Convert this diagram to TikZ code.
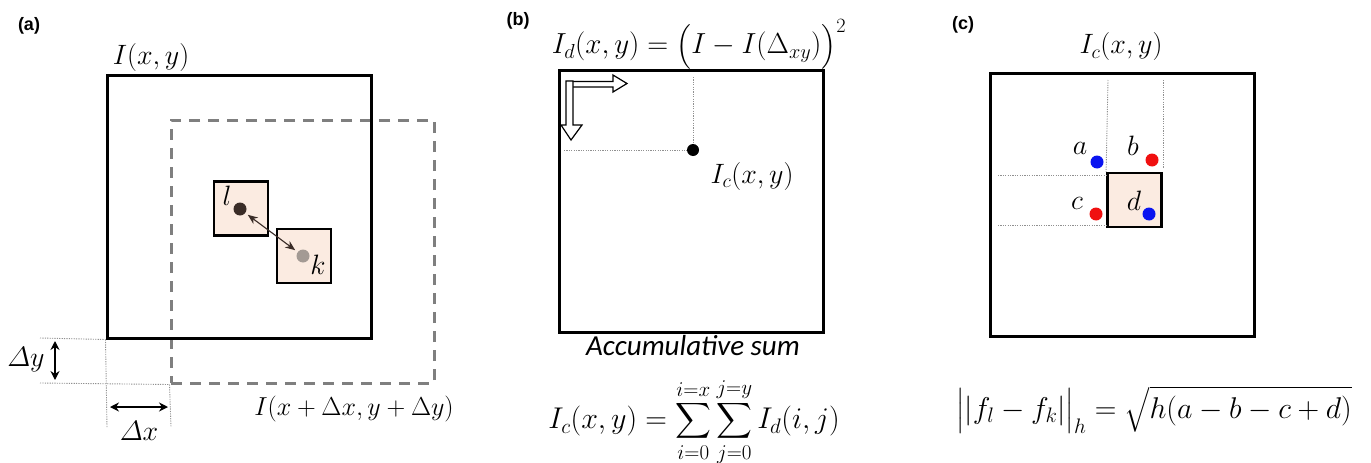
\RequirePackage{fix-cm}
\documentclass[tikz,border=0pt]{standalone}
\usepackage{amsmath}
\usepackage{fontspec}
\newfontfamily\lblfont{Liberation Sans}
\newfontfamily\calfont{Carlito}
\usetikzlibrary{arrows.meta}
\definecolor{peach}{HTML}{FBEBE1}
\definecolor{dashgray}{HTML}{7F7F7F}
\definecolor{dotgray}{HTML}{909090}
\definecolor{ldot}{HTML}{3A2C27}
\definecolor{kdot}{HTML}{A39A94}
\definecolor{dotblue}{HTML}{0A14F0}
\definecolor{dotred}{HTML}{F01010}
\newcommand{\itDelta}{\mathchar"0101}
\tikzset{
  frame/.style={draw=black, line width=3pt, inner sep=0pt, fill=none},
  smallbox/.style={draw=black, line width=2.8pt, inner sep=0pt, fill=peach, minimum width=54pt, minimum height=54pt},
  dotline/.style={draw=dotgray, line width=0.9pt, dash pattern=on 1.2pt off 1.2pt},
  dashbox/.style={draw=dashgray, line width=3pt, dash pattern=on 11pt off 8pt, inner sep=0pt},
  blob/.style={circle, inner sep=0pt, minimum size=13pt},
  panel/.style={font=\lblfont\bfseries\fontsize{18}{21}\selectfont, inner sep=0pt},
  mlabel/.style={font=\fontsize{28}{32}\selectfont, inner sep=0pt},
  hollow/.style={draw=black, line width=1.2pt, fill=white},
  dimarrow/.style={{Stealth[length=9pt,width=9pt]}-{Stealth[length=9pt,width=9pt]}, line width=1.3pt},
}
\begin{document}
\begin{tikzpicture}[x=1pt,y=-1pt]
\useasboundingbox (0,0) rectangle (1371,463);
% ---------- panel (a)
\node[panel] (pa) at (29,26) {(a)};
\node[dashbox, minimum width=263pt, minimum height=263pt] (B) at (302.5,251.5) {};
\node[frame, minimum width=264pt, minimum height=263pt] (A) at (239,206.5) {};
\node[mlabel] (Alab) at (151,57) {$I(x,y)$};
\node[mlabel, font=\fontsize{26}{30}\selectfont] (Blab) at (354,409) {$I(x+\Delta x,y+\Delta y)$};
\node[smallbox] (bl) at (241,208.5) {};
\node[smallbox] (bk) at (304,256) {};
\node[blob, fill=ldot] (dl) at (240,209) {};
\node[blob, fill=kdot] (dk) at (303,256) {};
\node[mlabel, anchor=base] (tl) at (227,205) {$l$};
\node[mlabel, anchor=base] (tk) at (318,274) {$k$};
\draw[{Stealth[length=10pt,width=8pt]}-{Stealth[length=10pt,width=8pt]}, draw=ldot, fill=ldot, line width=1.1pt, shorten <=3pt, shorten >=3pt] (dl) -- (dk);
\coordinate (h1s) at (40,338); \coordinate (h1e) at (A.south west);
\coordinate (h2s) at (40,383); \coordinate (h2e) at (B.south west);
\coordinate (v1e) at (107,427); \coordinate (v2e) at (171,427);
\draw[dotline] (h1s) -- (h1e);
\draw[dotline] (h2s) -- (h2e);
\draw[dotline] (h1e) -- (v1e);
\draw[dotline] (h2e) -- (v2e);
\coordinate (dyt) at (55,341); \coordinate (dyb) at (55,380);
\coordinate (dxl) at (110,407); \coordinate (dxr) at (168,407);
\draw[dimarrow] (dyt) -- (dyb);
\draw[dimarrow] (dxl) -- (dxr);
\node[mlabel] (dylab) at (26,360) {$\itDelta y$};
\node[mlabel] (dxlab) at (139,431) {$\itDelta x$};
% ---------- panel (b)
\node[panel] (pb) at (518,21) {(b)};
\node[mlabel, font=\fontsize{29}{32}\selectfont] (Idlab) at (699,44) {$I_d(x,y)=\bigl(I-I(\Delta_{xy})\bigr)^2$};
\node[frame, minimum width=264pt, minimum height=262pt] (C) at (691,201) {};
\draw[hollow] (567,81.5) -- (613,81.5) -- (613,75) -- (627,83.5) -- (613,92) -- (613,87) -- (567,87) -- cycle;
\draw[hollow] (566,81) -- (566,125) -- (561,125) -- (571,140) -- (582,125) -- (573,125) -- (573,81) -- cycle;
\node[blob, fill=black, minimum size=12pt] (dc) at (693,150) {};
\coordinate (cvt) at (693,77);
\coordinate (chl) at (564,150);
\draw[dotline] (cvt) -- (dc);
\draw[dotline] (chl) -- (dc);
\node[mlabel] (Iclab) at (752,176) {$I_c(x,y)$};
\node[font=\calfont\itshape\fontsize{29}{32}\selectfont, inner sep=0pt, text depth=0pt] (acc) at (693,345) {Accumulative sum};
\node[mlabel, font=\fontsize{30}{34}\selectfont] (sumf) at (694,422) {$\displaystyle I_c(x,y)=\sum_{i=0}^{i=x}\sum_{j=0}^{j=y} I_d(i,j)$};
% ---------- panel (c)
\node[panel] (pc) at (963,25) {(c)};
\node[mlabel] (Iclab2) at (1121,47) {$I_c(x,y)$};
\node[frame, minimum width=264pt, minimum height=263pt] (D) at (1122,204.5) {};
\node[draw=black, line width=2.8pt, inner sep=0pt, fill=peach, minimum width=54pt, minimum height=54pt] (E) at (1134.5,200) {};
\coordinate (va1) at (1108,80); \coordinate (va2) at (1163,80);
\coordinate (vb2) at (1163,168);
\coordinate (ha1) at (998,175); \coordinate (ha2) at (998,225);
\draw[dotline] (va1) -- (E.north west);
\draw[dotline] (va2) -- (vb2);
\draw[dotline] (ha1) -- (1107,175);
\draw[dotline] (ha2) -- (1107,225);
\node[blob, fill=dotblue] (a) at (1097,162) {};
\node[blob, fill=dotred] (b) at (1152,160) {};
\node[blob, fill=dotred] (c) at (1096,214) {};
\node[blob, fill=dotblue] (d) at (1149,214) {};
\node[mlabel] (ta) at (1080,148) {$a$};
\node[mlabel] (tb) at (1133,146) {$b$};
\node[mlabel] (tc) at (1077,203) {$c$};
\node[mlabel] (td) at (1134,201) {$d$};
\node[mlabel, font=\fontsize{30}{34}\selectfont] (normf) at (1154,410) {$\bigl|\lvert f_l-f_k\rvert\bigr|_h=\sqrt{h(a-b-c+d)}$};
\end{tikzpicture}
\end{document}
